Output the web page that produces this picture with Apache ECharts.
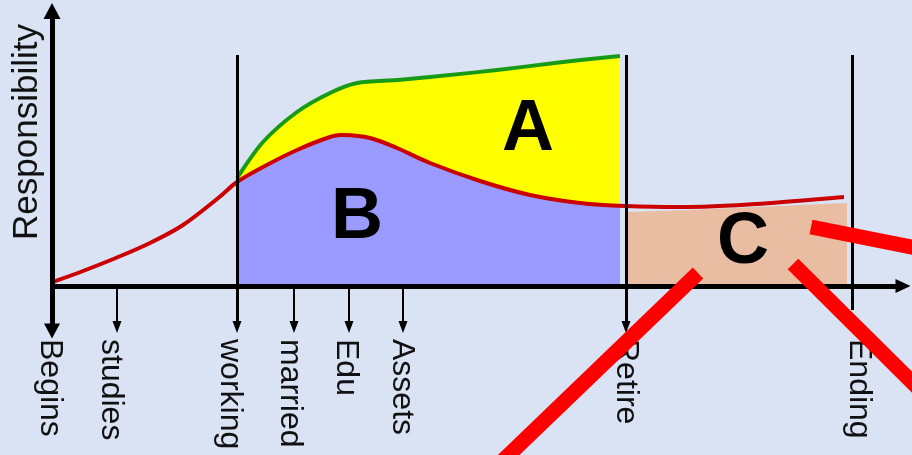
<!DOCTYPE html>
<html>
<head>
<meta charset="utf-8">
<title>Responsibility over life</title>
<script src="https://cdn.jsdelivr.net/npm/echarts@6.0.0/dist/echarts.min.js"></script>
<style>
html, body { margin: 0; padding: 0; background: #dae3f3; }
#main { width: 912px; height: 455px; }
</style>
</head>
<body>
<div id="main"></div>
<script>
// life stages on the time axis (both axes in units of 10px of the picture)
var stageNames = ['Begins', 'studies', 'working', 'married', 'Edu', 'Assets', 'Retire', 'Ending'];
var stageX = [0, 6.5, 18.5, 24.2, 29.7, 35.1, 57.4, 80.0];

// red curve: responsibility carried over a lifetime
var redX = [0.1, 3.1, 6.5, 9.8, 13.1, 16.5, 18.5, 21.1, 24.5, 27.8, 29.1, 31.8, 34.5, 37.8, 42.8, 47.8, 52.8, 57.3, 63.7, 70.4, 79.2];
var redY = [0.4, 1.5, 2.85, 4.3, 6.1, 8.7, 10.4, 11.9, 13.6, 14.9, 15.1, 14.8, 13.8, 12.3, 10.5, 9.1, 8.3, 8.0, 7.9, 8.2, 8.9];

// green curve: upper edge of area A
var greenX = [18.5, 21.1, 24.5, 27.8, 30.5, 34.5, 37.8, 44.5, 51.1, 56.8];
var greenY = [10.8, 14.4, 17.4, 19.3, 20.3, 20.6, 20.9, 21.6, 22.4, 23.0];

// area B (working years) and area C (after retiring)
var blueX = [18.6, 21.1, 24.5, 27.8, 29.1, 31.8, 34.5, 37.8, 42.8, 47.8, 52.8, 56.8];
var blueY = [10.3, 11.8, 13.5, 14.8, 15.0, 14.7, 13.7, 12.2, 10.4, 9.0, 8.2, 7.9];
var peachX = [57.5, 63.7, 70.4, 79.5];
var peachY = [7.4, 7.6, 7.9, 8.3];

// area letters
var areaNames = ['A', 'B', 'C'];
var areaX = [47.6, 30.5, 69.1];
var areaY = [15.6, 6.8, 4.3];

// the three red strokes pointing at C
var slash1 = [[64.6, 1.3], [44.0, -18.5]];
var slash2 = [[75.9, 5.9], [88.0, 3.5]];
var slash3 = [[74.1, 2.2], [88.0, -11.6]];

// layout
var axisTop = 27.5, axisBottom = -4.5, xAxisEnd = 85.1;
var tickEnd = -4.1, lineTop = 23.1, endingBottom = -2.4, labelTop = -5.3;
var labelShift = [-2, -6, -7, -4, -3, -1, 0, 7];   // px, label vs. its tick

function pts(xs, ys) {
    return xs.map(function (x, i) { return [x, ys[i]]; });
}

// catmull-rom through the pixel points, as bezier path data
function smoothPath(p) {
    var d = 'M' + p[0][0] + ' ' + p[0][1];
    for (var i = 0; i < p.length - 1; i++) {
        var p0 = p[i - 1] || p[i], p1 = p[i], p2 = p[i + 1], p3 = p[i + 2] || p2;
        d += ' C' + [
            p1[0] + (p2[0] - p0[0]) / 6, p1[1] + (p2[1] - p0[1]) / 6,
            p2[0] - (p3[0] - p1[0]) / 6, p2[1] - (p3[1] - p1[1]) / 6,
            p2[0], p2[1]
        ].join(' ');
    }
    return d;
}

// one smooth curve (or filled area down to 0) drawn through the axes
function curve(name, xs, ys, style, filled, z) {
    return {
        name: name,
        type: 'custom',
        coordinateSystem: 'cartesian2d',
        data: pts(xs, ys),
        encode: {x: 0, y: 1},
        silent: true,
        z: z,
        renderItem: function (params, api) {
            if (params.dataIndex !== 0) return null;
            var p = xs.map(function (x, i) { return api.coord([x, ys[i]]); });
            var d = smoothPath(p);
            if (filled) {
                var b1 = api.coord([xs[xs.length - 1], 0]), b0 = api.coord([xs[0], 0]);
                d += ' L' + b1[0] + ' ' + b1[1] + ' L' + b0[0] + ' ' + b0[1] + ' Z';
            }
            return {type: 'path', shape: {pathData: d}, style: style};
        }
    };
}

var chart = echarts.init(document.getElementById('main'));

// axis lines, tick arrows and stage lines
var lines = [
    [{coord: [0, axisBottom], symbol: 'triangle', symbolSize: [16, 15], lineStyle: {width: 5}},
     {coord: [0, axisTop], symbol: 'triangle', symbolSize: [17, 16]}],
    [{coord: [0, 0], symbol: 'none', lineStyle: {width: 5}},
     {coord: [xAxisEnd, 0], symbol: 'triangle', symbolSize: [14, 15]}]
];
stageNames.forEach(function (name, i) {
    if (name === 'Begins') return;
    if (name === 'working' || name === 'Retire') {
        lines.push([{coord: [stageX[i], lineTop], symbol: 'none', lineStyle: {width: 3}},
                    {coord: [stageX[i], tickEnd], symbol: 'triangle', symbolSize: [9, 12]}]);
    } else if (name === 'Ending') {
        lines.push([{coord: [stageX[i], lineTop], symbol: 'none', lineStyle: {width: 3}},
                    {coord: [stageX[i], endingBottom], symbol: 'none'}]);
    } else {
        lines.push([{coord: [stageX[i], 0], symbol: 'none', lineStyle: {width: 2}},
                    {coord: [stageX[i], tickEnd], symbol: 'triangle', symbolSize: [9, 12]}]);
    }
});

var labelFont = '"Liberation Sans", Arial, sans-serif';

var option = {
    backgroundColor: '#dae3f3',
    animation: false,
    grid: {left: 0, right: 0, top: 0, bottom: 0},
    xAxis: {type: 'value', min: -5.2, max: 86, show: false},
    yAxis: {type: 'value', min: -16.9, max: 28.6, show: false},
    series: [
        curve('A', greenX, greenY, {fill: '#ffff00'}, true, 1),
        curve('B', blueX, blueY, {fill: '#9a9aff'}, true, 2),
        curve('C', peachX, peachY, {fill: '#e8bda1'}, true, 2),
        curve('A top', greenX, greenY, {fill: 'none', stroke: '#179b17', lineWidth: 4}, false, 3),
        curve('Responsibility', redX, redY, {fill: 'none', stroke: '#cc0000', lineWidth: 4}, false, 3),
        {
            name: 'stages',
            type: 'scatter',
            symbolSize: 0,
            silent: true,
            z: 4,
            itemStyle: {opacity: 1},
            data: stageNames.map(function (name, i) {
                return {name: name, value: [stageX[i] + labelShift[i] / 10, labelTop]};
            }).concat([{name: 'Responsibility', value: [-2.5, 15.4],
                label: {rotate: 90, align: 'center', fontSize: 35}}]),
            label: {
                show: true,
                formatter: '{b}',
                position: [0, 0],
                rotate: -90,
                align: 'left',
                verticalAlign: 'middle',
                fontSize: 32,
                fontFamily: labelFont,
                color: '#111'
            },
            markLine: {
                silent: true,
                animation: false,
                label: {show: false},
                emphasis: {disabled: true},
                lineStyle: {color: '#000', type: 'solid', width: 2, opacity: 1},
                data: lines
            }
        },
        {
            type: 'line', data: slash1, symbol: 'none', silent: true, z: 5,
            lineStyle: {color: '#ff0000', width: 15, cap: 'butt'}
        },
        {
            type: 'line', data: slash2, symbol: 'none', silent: true, z: 5,
            lineStyle: {color: '#ff0000', width: 15, cap: 'butt'}
        },
        {
            type: 'line', data: slash3, symbol: 'none', silent: true, z: 5,
            lineStyle: {color: '#ff0000', width: 15, cap: 'butt'}
        },
        {
            name: 'areas',
            type: 'scatter',
            symbolSize: 0,
            silent: true,
            z: 6,
            itemStyle: {opacity: 1},
            data: areaNames.map(function (name, i) {
                return {name: name, value: [areaX[i], areaY[i]]};
            }),
            label: {
                show: true,
                formatter: '{b}',
                position: [0, 0],
                align: 'center',
                verticalAlign: 'middle',
                fontSize: 72,
                fontWeight: 'bold',
                fontFamily: labelFont,
                color: '#000'
            }
        }
    ]
};

chart.setOption(option);
</script>
</body>
</html>
